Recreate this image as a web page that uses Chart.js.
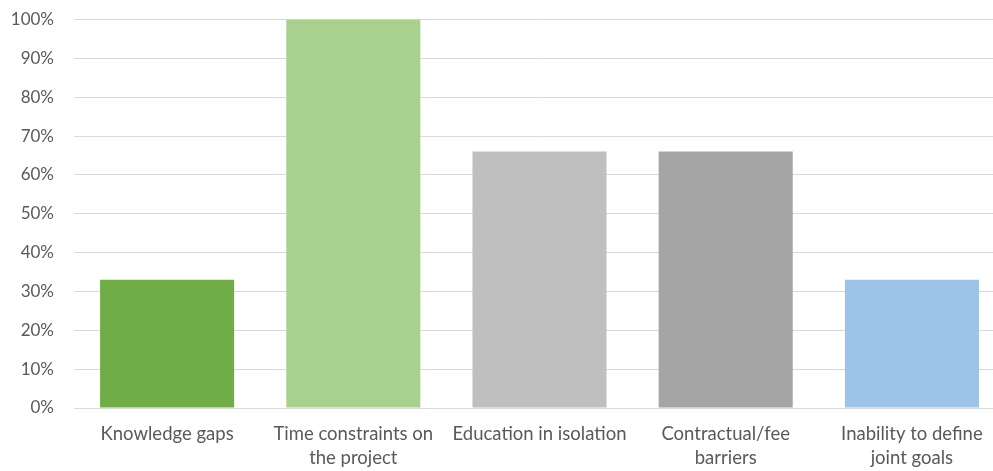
<!DOCTYPE html>
<html>
<head>
<meta charset="utf-8">
<script src="https://cdn.jsdelivr.net/npm/chart.js@4/dist/chart.umd.min.js"></script>
<style>
  html, body { margin: 0; padding: 0; background: #fff; overflow: hidden; }
  #wrap { width: 1005px; height: 471px; position: relative; }
</style>
</head>
<body>
<div id="wrap"><canvas id="c"></canvas></div>
<script>
// Share of respondents naming each barrier
const categories = [
  ["Knowledge gaps"],
  ["Time constraints on", "the project"],
  ["Education in isolation"],
  ["Contractual/fee", "barriers"],
  ["Inability to define", "joint goals"]
];
const shares = [33, 100, 66, 66, 33];
const barColors = ["#70AD47", "#A9D18E", "#BFBFBF", "#A5A5A5", "#9DC3E6"];
const yTicks = [0, 10, 20, 30, 40, 50, 60, 70, 80, 90, 100];

const textColor = "#595959";
const gridColor = "#D9D9D9";

new Chart(document.getElementById("c"), {
  type: "bar",
  data: {
    labels: categories,
    datasets: [{
      data: shares,
      backgroundColor: barColors,
      borderWidth: 0,
      categoryPercentage: 1,
      barPercentage: 0.72
    }]
  },
  options: {
    responsive: true,
    maintainAspectRatio: false,
    animation: false,
    layout: { padding: { top: 19.5, right: 0, bottom: 0, left: 0 } },
    plugins: { legend: { display: false }, tooltip: { enabled: false } },
    scales: {
      x: {
        grid: { display: false, drawTicks: false },
        border: { display: true, color: gridColor, width: 1 },
        ticks: {
          color: textColor,
          font: { family: "Lato", size: 18.5, lineHeight: 1.3 },
          padding: 14,
          maxRotation: 0,
          autoSkip: false
        },
        afterFit: s => { s.height = 63; s.paddingLeft = 0; s.paddingRight = 0; }
      },
      y: {
        min: 0,
        max: 100,
        afterBuildTicks: s => { s.ticks = yTicks.map(v => ({ value: v })); },
        grid: { color: gridColor, lineWidth: 1, drawTicks: false },
        border: { display: false },
        ticks: {
          color: textColor,
          font: { family: "Lato", size: 17 },
          padding: 20,
          callback: v => v + "%"
        },
        afterFit: s => { s.width = 74; s.paddingTop = 0; s.paddingBottom = 0; }
      }
    }
  }
});
</script>
</body>
</html>
